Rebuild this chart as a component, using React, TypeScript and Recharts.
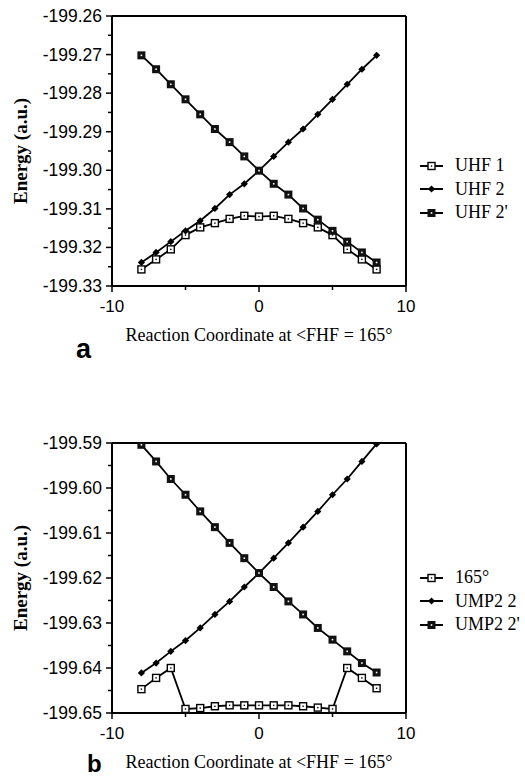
import React from "react";
import {
  LineChart,
  Line,
  XAxis,
  YAxis,
  ReferenceLine,
  Label,
} from "recharts";

// reaction coordinate, shared by all six curves
const coords = [-8, -7, -6, -5, -4, -3, -2, -1, 0, 1, 2, 3, 4, 5, 6, 7, 8];

// panel a: UHF energies (a.u.)
const uhf1 = [
  -199.3257, -199.3231, -199.3205, -199.3168, -199.3148, -199.3137, -199.3126, -199.3118,
  -199.312, -199.3118, -199.3126, -199.3137, -199.3148, -199.3168, -199.3205, -199.3231,
  -199.3257,
];
const uhf2 = [
  -199.3239, -199.3213, -199.3185, -199.3157, -199.3131, -199.3099, -199.3063, -199.3035,
  -199.3001, -199.2964, -199.2927, -199.2893, -199.2855, -199.2816, -199.2777, -199.2738,
  -199.2702,
];
const uhf2p = [
  -199.2702, -199.2738, -199.2777, -199.2816, -199.2855, -199.2893, -199.2927, -199.2964,
  -199.3001, -199.3035, -199.3063, -199.3099, -199.3128, -199.3157, -199.3185, -199.3213,
  -199.3239,
];

// panel b: UMP2 energies (a.u.)
const ump165 = [
  -199.6447, -199.6422, -199.64, -199.6491, -199.6489, -199.6485, -199.6483, -199.6483,
  -199.6483, -199.6483, -199.6483, -199.6485, -199.6488, -199.6491, -199.64, -199.6422,
  -199.6445,
];
const ump2 = [
  -199.6411, -199.6389, -199.6363, -199.6339, -199.6311, -199.6281, -199.6252, -199.622,
  -199.6189, -199.6156, -199.6122, -199.6087, -199.6052, -199.6015, -199.598, -199.5941,
  -199.5902,
];
const ump2p = [
  -199.5904, -199.5941, -199.598, -199.6015, -199.6052, -199.6087, -199.6122, -199.6156,
  -199.6189, -199.622, -199.6252, -199.6281, -199.6311, -199.6337, -199.6363, -199.6389,
  -199.641,
];

const xTicks = [-10, -5, 0, 5, 10];
const yTicksA = [
  -199.33, -199.325, -199.32, -199.315, -199.31, -199.305, -199.3, -199.295, -199.29,
  -199.285, -199.28, -199.275, -199.27, -199.265, -199.26,
];
const yTicksB = [
  -199.65, -199.645, -199.64, -199.635, -199.63, -199.625, -199.62, -199.615, -199.61,
  -199.605, -199.6, -199.595, -199.59,
];

const serif = "'Liberation Serif', 'Times New Roman', serif";
const sans = "'Liberation Sans', Arial, sans-serif";

type Kind = "open" | "diamond" | "filled";

function Marker({ cx, cy, kind }: { cx: number; cy: number; kind: Kind }) {
  if (cx == null || cy == null) return null;
  if (kind === "open") {
    return (
      <g>
        <rect x={cx - 3.5} y={cy - 3.5} width={7} height={7} fill="#fff" stroke="#000" strokeWidth={1.4} />
        <rect x={cx - 0.7} y={cy - 0.7} width={1.4} height={1.4} fill="#000" />
      </g>
    );
  }
  if (kind === "diamond") {
    return <path d={`M${cx},${cy - 3.6}L${cx + 3.6},${cy}L${cx},${cy + 3.6}L${cx - 3.6},${cy}Z`} fill="#000" />;
  }
  return (
    <g>
      <rect x={cx - 4} y={cy - 4} width={8} height={8} fill="#111" />
      <rect x={cx - 0.8} y={cy - 0.8} width={1.6} height={1.6} fill="#fff" />
    </g>
  );
}

const dotFor = (kind: Kind) => (p: any) =>
  <Marker key={`${kind}-${p.index}`} cx={p.cx} cy={p.cy} kind={kind} />;

// y ticks: labelled every 0.01, short unlabelled tick halfway between
function YTick(props: any) {
  const { x, y, payload, index } = props;
  const axisX = x + 8;
  const major = index % 2 === 0;
  return (
    <g>
      <line x1={axisX - (major ? 6 : 4)} x2={axisX} y1={y} y2={y} stroke="#000" strokeWidth={1.5} />
      {major && (
        <text x={x - 2} y={y} dy={6} textAnchor="end" fontFamily={sans} fontSize={17.5} fill="#000">
          {payload.value.toFixed(2)}
        </text>
      )}
    </g>
  );
}

function XTick(props: any) {
  const { x, y, payload } = props;
  const axisY = y - 8;
  const major = payload.value % 10 === 0;
  return (
    <g>
      <line x1={x} x2={x} y1={axisY} y2={axisY + (major ? 6 : 4)} stroke="#000" strokeWidth={1.5} />
      {major && (
        <text x={x} y={axisY + 26} textAnchor="middle" fontFamily={sans} fontSize={17} fill="#000">
          {payload.value}
        </text>
      )}
    </g>
  );
}

interface PanelProps {
  top: number;
  yDomain: [number, number];
  yTicks: number[];
  series: { name: string; values: number[]; kind: Kind }[];
  titleOffset: number;
}

function Panel({ top, yDomain, yTicks, series, titleOffset }: PanelProps) {
  const rows = coords.map((x, i) => {
    const row: Record<string, number> = { x };
    series.forEach((s) => (row[s.name] = s.values[i]));
    return row;
  });

  return (
    <div style={{ position: "absolute", left: 0, top }}>
      <LineChart
        width={525}
        height={346}
        data={rows}
        margin={{ top: 16, right: 119, bottom: 0, left: 0 }}
      >
        <XAxis
          dataKey="x"
          type="number"
          domain={[-10, 10]}
          ticks={xTicks}
          height={60}
          stroke="#000"
          strokeWidth={2}
          tickLine={false}
          tickSize={0}
          tickMargin={8}
          tick={<XTick />}
          interval={0}
        >
          <Label
            value="Reaction Coordinate at <FHF = 165°"
            position="insideBottom"
            offset={titleOffset}
            style={{ fontFamily: serif, fontSize: 18, fill: "#000" }}
          />
        </XAxis>
        <YAxis
          type="number"
          domain={yDomain}
          ticks={yTicks}
          width={112}
          stroke="#000"
          strokeWidth={2}
          tickLine={false}
          tickSize={0}
          tickMargin={8}
          tick={<YTick />}
          interval={0}
          allowDataOverflow
        >
          <Label
            value="Energy (a.u.)"
            angle={-90}
            position="insideLeft"
            offset={20}
            style={{ fontFamily: serif, fontSize: 19, fontWeight: "bold", fill: "#000", textAnchor: "middle" }}
          />
        </YAxis>
        <ReferenceLine y={yDomain[1]} stroke="#000" strokeWidth={2} />
        <ReferenceLine x={10} stroke="#000" strokeWidth={2} />
        {series.map((s) => (
          <Line
            key={s.name}
            dataKey={s.name}
            type="linear"
            stroke="#000"
            strokeWidth={1.8}
            dot={dotFor(s.kind)}
            activeDot={false}
            isAnimationActive={false}
          />
        ))}
      </LineChart>
    </div>
  );
}

function LegendBox({ top, series }: { top: number; series: { name: string; kind: Kind }[] }) {
  return (
    <div style={{ position: "absolute", left: 418, top }}>
      {series.map((s) => (
        <div key={s.name} style={{ display: "flex", alignItems: "center", height: 23.5 }}>
          <svg width={28} height={14} style={{ overflow: "visible" }}>
            <line x1={2} x2={25} y1={7} y2={7} stroke="#000" strokeWidth={2} />
            <Marker cx={13.5} cy={7} kind={s.kind} />
          </svg>
          <span style={{ marginLeft: 9, fontFamily: serif, fontSize: 18, color: "#000", whiteSpace: "nowrap" }}>
            {s.name}
          </span>
        </div>
      ))}
    </div>
  );
}

const panelA = [
  { name: "UHF 1", values: uhf1, kind: "open" as Kind },
  { name: "UHF 2", values: uhf2, kind: "diamond" as Kind },
  { name: "UHF 2'", values: uhf2p, kind: "filled" as Kind },
];

const panelB = [
  { name: "165°", values: ump165, kind: "open" as Kind },
  { name: "UMP2 2", values: ump2, kind: "diamond" as Kind },
  { name: "UMP2 2'", values: ump2p, kind: "filled" as Kind },
];

export default function App() {
  return (
    <div style={{ position: "absolute", left: 0, top: 0, width: 525, height: 780, background: "#fff", overflow: "hidden" }}>
      <Panel top={0} yDomain={[-199.33, -199.26]} yTicks={yTicksA} series={panelA} titleOffset={5} />
      <LegendBox top={154} series={panelA} />
      <Panel top={427} yDomain={[-199.65, -199.59]} yTicks={yTicksB} series={panelB} titleOffset={5} />
      <LegendBox top={566} series={panelB} />
      <div style={{ position: "absolute", left: 76, top: 334, fontFamily: sans, fontWeight: "bold", fontSize: 27 }}>a</div>
      <div style={{ position: "absolute", left: 87, top: 750, fontFamily: sans, fontWeight: "bold", fontSize: 24, lineHeight: "28px" }}>b</div>
    </div>
  );
}
